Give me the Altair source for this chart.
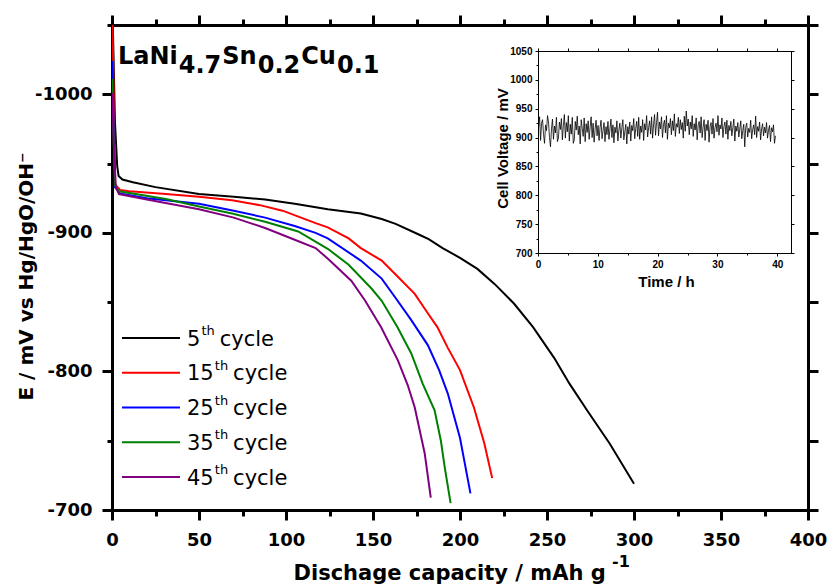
import altair as alt
import pandas as pd

# ---------------- data ----------------
cycle_labels = ["5", "15", "25", "35", "45"]
cycle_colors = ["#000000", "#ff0000", "#0000ff", "#008000", "#800080"]

cap_5 = [0.3, 1.7, 3.0, 3.8, 6, 12, 25, 50, 70, 88, 105, 124, 143, 155, 163, 176, 182, 190, 200, 210, 220, 231, 242, 254, 263, 273, 286, 300]
e_5 = [-1060, -980, -948, -941, -938.5, -936.5, -933, -928, -926, -924, -921, -917, -914, -910, -906.5, -899, -895.5, -889, -882, -874, -863, -849, -832, -810, -791, -772, -748, -719]

cap_15 = [0.2, 1.2, 1.8, 4.6, 10, 31, 50, 69, 85, 98, 117, 124, 136, 143, 155, 163, 174, 181.5, 187, 193, 200, 208, 214, 218.5]
e_15 = [-1060, -980, -935, -931, -930, -928, -926, -923.5, -920, -916, -907, -904, -896, -889, -880, -870, -856, -842, -832, -817, -801, -774, -748, -723]

cap_25 = [0.2, 1.0, 1.7, 4.6, 20, 50, 70, 88, 105, 117, 124, 143, 155, 163, 172, 181.5, 188, 193, 200, 203, 206]
e_25 = [-1024, -975, -933, -928.5, -925, -921, -916, -911, -905, -900, -896, -880, -867, -853, -837, -819, -801, -784, -752, -732, -712]

cap_35 = [0.1, 1.0, 1.8, 4.0, 31, 50, 69, 88, 107, 124, 136, 149, 155, 164, 172, 178.6, 185.4, 189, 191.2, 194.6]
e_35 = [-1011, -965, -934, -930, -924.5, -919, -914, -908, -901, -888.5, -877, -860, -851, -832, -813, -791, -772, -750, -731, -705]

cap_45 = [0.1, 1.0, 2.2, 4.0, 20, 50, 70, 88, 105, 117, 124.4, 137.5, 145.5, 154.6, 164.3, 170, 174, 179.7, 183.2]
e_45 = [-1001, -965, -933, -928, -924, -917, -911, -903.5, -895, -889, -881, -865.5, -851, -832, -808, -790, -774, -741, -709]

capacity = {"5": cap_5, "15": cap_15, "25": cap_25, "35": cap_35, "45": cap_45}
potential = {"5": e_5, "15": e_15, "25": e_25, "35": e_35, "45": e_45}

# inset: cell voltage (mV) sampled at a constant interval over ~40 h
inset_voltage = [
    918, 936, 895, 925, 931, 905, 890, 922, 912, 938, 927, 900, 884, 915, 932, 897, 920, 908, 935, 893, 899, 927, 914, 933, 896, 921, 940, 899, 926, 910,
    938, 894, 923, 906, 935, 890, 896, 928, 913, 937, 905, 920, 889, 931, 916, 902, 934, 893, 924, 909, 929, 897, 918, 936, 900, 925, 892, 914, 930, 903,
    921, 895, 917, 930, 898, 912, 926, 893, 919, 905, 928, 897, 915, 932, 900, 922, 891, 918, 908, 929, 894, 913, 925, 899, 917, 931, 896, 910, 923, 889,
    919, 906, 927, 894, 921, 912, 933, 898, 916, 928, 902, 935, 897, 920, 909, 931, 895, 924, 913, 938, 901, 917, 929, 906, 936, 899, 922, 940, 904, 926,
    944, 903, 927, 915, 936, 900, 922, 930, 908, 938, 897, 925, 917, 933, 905, 929, 912, 941, 902, 924, 918, 935, 907, 931, 914, 926, 899, 937, 911, 946,
    920, 932, 905, 927, 915, 938, 902, 924, 913, 934, 896, 921, 928, 908, 936, 900, 918, 931, 895, 923, 912, 930, 892, 919, 926, 906, 933, 899, 917, 925,
    910, 938, 904, 922, 915, 934, 900, 919, 927, 906, 930, 897, 921, 912, 928, 903, 917, 932, 894, 920, 911, 926, 901, 915, 929, 898, 912, 923, 884, 918,
    925, 901, 916, 909, 930, 898, 914, 922, 905, 937, 900, 919, 911, 927, 896, 915, 924, 903, 918, 908, 926, 899, 913, 921, 893, 917, 910, 922, 890, 903,
]
inset_start_h = 0.1
inset_interval_h = 0.1657

x_ticks = [0, 50, 100, 150, 200, 250, 300, 350, 400]
x_minor = [25, 75, 125, 175, 225, 275, 325, 375]
y_ticks = [-1000, -900, -800, -700]
y_minor = [-1050, -950, -850, -750]
y_right = [-1050, -1000, -950, -900, -850, -800, -750, -700]
inset_x_ticks = [0, 10, 20, 30, 40]
inset_x_minor = [5, 15, 25, 35]
inset_x_top = [0, 5, 10, 15, 20, 25, 30, 35, 40]
inset_y_ticks = [700, 750, 800, 850, 900, 950, 1000, 1050]
inset_y_minor = [725, 775, 825, 875, 925, 975, 1025]

# ---------------- layout ----------------
W, H = 696, 485
PAD_L, PAD_T = 104, 17
ORIGIN_X, ORIGIN_Y = 8 + PAD_L, 8 + PAD_T   # page pixel of plot top-left
X_DOM = [0, 400]
Y_DOM = [-1050, -700]


def px2x(px):
    return X_DOM[0] + (px - ORIGIN_X) / W * (X_DOM[1] - X_DOM[0])


def px2y(py):
    # y scale reversed: -1050 at top
    return Y_DOM[0] + (py - ORIGIN_Y) / H * (Y_DOM[1] - Y_DOM[0])


FONT = "DejaVu Sans"
IFONT = "Liberation Sans"


def xs():
    return alt.Scale(domain=X_DOM, nice=False, zero=False)


def ys():
    return alt.Scale(domain=Y_DOM, reverse=True, nice=False, zero=False)


rows = []
for lab in cycle_labels:
    for i, (c, e) in enumerate(zip(capacity[lab], potential[lab])):
        rows.append({"cycle": lab, "i": i, "x": c, "y": e})
curves_df = pd.DataFrame(rows)

color = alt.Color("cycle:N", scale=alt.Scale(domain=cycle_labels, range=cycle_colors), legend=None)

main_x_axis = alt.Axis(
    orient="bottom", values=x_ticks, tickSize=10, tickWidth=3, tickColor="black",
    domainWidth=3, domainColor="black", domainCap="square",
    labelFont=FONT, labelFontWeight="bold", labelFontSize=18, labelColor="black",
    labelPadding=11, labelFlush=False, labelOverlap=False, labelExpr="'' + datum.value",
    grid=False, title="Dischage capacity / mAh g", titleFont=FONT, titleFontWeight="bold",
    titleFontSize=21, titleColor="black", titleX=181, titleY=69, titleAlign="left",
    titleBaseline="alphabetic", titleAngle=0,
)
main_y_axis = alt.Axis(
    orient="left", values=y_ticks, tickSize=10, tickWidth=3, tickColor="black",
    domainWidth=3, domainColor="black", domainCap="square",
    labelFont=FONT, labelFontWeight="bold", labelFontSize=18, labelColor="black",
    labelPadding=10, labelOverlap=False, labelExpr="'' + datum.value",
    grid=False, title="E / mV vs Hg/HgO/OH\u207b", titleFont=FONT, titleFontWeight="bold",
    titleFontSize=20, titleColor="black", titleX=-80, titleY=375, titleAlign="left",
    titleBaseline="alphabetic", titleAngle=270,
)

curves = alt.Chart(curves_df).mark_line(strokeWidth=2, clip=True).encode(
    x=alt.X("x:Q", scale=xs(), axis=main_x_axis),
    y=alt.Y("y:Q", scale=ys(), axis=main_y_axis),
    color=color,
    order="i:Q",
)

# ---- in-plot legend built from the cycle lists ----
DIGIT_W = 13.4
TH_W = 13.3
leg_rules, leg_big, leg_th = [], [], []
for k, lab in enumerate(cycle_labels):
    ly = 338 + k * 34.75
    leg_rules.append({"cycle": lab, "x": px2x(122), "x2": px2x(180), "y": px2y(ly)})
    num_x = 187
    th_x = num_x + len(lab) * DIGIT_W + 1
    cyc_x = th_x + TH_W + 5
    leg_big.append({"t": lab, "x": px2x(num_x), "y": px2y(ly + 7.5)})
    leg_big.append({"t": "cycle", "x": px2x(cyc_x), "y": px2y(ly + 7.5)})
    leg_th.append({"t": "th", "x": px2x(th_x), "y": px2y(ly - 3)})

legend_lines = alt.Chart(pd.DataFrame(leg_rules)).mark_rule(strokeWidth=2).encode(
    x=alt.X("x:Q", scale=xs(), axis=None), x2="x2:Q",
    y=alt.Y("y:Q", scale=ys(), axis=None), color=color,
)
legend_big = alt.Chart(pd.DataFrame(leg_big)).mark_text(
    font=FONT, fontSize=21, align="left", baseline="alphabetic", color="black"
).encode(x=alt.X("x:Q", scale=xs(), axis=None), y=alt.Y("y:Q", scale=ys(), axis=None), text="t:N")
legend_th = alt.Chart(pd.DataFrame(leg_th)).mark_text(
    font=FONT, fontSize=13, align="left", baseline="alphabetic", color="black"
).encode(x=alt.X("x:Q", scale=xs(), axis=None), y=alt.Y("y:Q", scale=ys(), axis=None), text="t:N")

# ---- compound formula LaNi4.7Sn0.2Cu0.1 ----
DJB = {"L": .635, "a": .675, "N": .837, "i": .343, "S": .720, "n": .712, "C": .734, "u": .712, ".": .381}
for d in "0123456789":
    DJB[d] = .696
formula_parts = [("LaNi", 0), ("4.7", 1), ("Sn", 0), ("0.2", 1), ("Cu", 0), ("0.1", 1)]
FS_F = 24
fx = 118
frows = []
for txt, sub in formula_parts:
    frows.append({"t": txt, "x": px2x(fx), "y": px2y(73 if sub else 64)})
    fx += sum(DJB[c] for c in txt) * FS_F + 1
formula = alt.Chart(pd.DataFrame(frows)).mark_text(
    font=FONT, fontSize=FS_F, fontWeight="bold", align="left", baseline="alphabetic", color="black"
).encode(x=alt.X("x:Q", scale=xs(), axis=None), y=alt.Y("y:Q", scale=ys(), axis=None), text="t:N")

sup = alt.Chart(pd.DataFrame({"t": ["-1"]})).mark_text(
    font=FONT, fontSize=16, fontWeight="bold", align="left", baseline="alphabetic", color="black"
).encode(x=alt.value(500), y=alt.value(542), text="t:N")

dummy = pd.DataFrame({"x": [0], "y": [-700]})


def bare_axis(orient, values, size, domain, width=3, offset=0):
    return alt.Axis(orient=orient, values=values, tickSize=size, tickWidth=width, tickColor="black",
                    domain=domain, domainWidth=width, domainColor="black", domainCap="square",
                    labels=False, grid=False, title="", offset=offset)


main_minor = alt.Chart(dummy).mark_point(opacity=0).encode(
    x=alt.X("x:Q", scale=xs(), axis=bare_axis("bottom", x_minor, 6, False)),
    y=alt.Y("y:Q", scale=ys(), axis=bare_axis("left", y_minor, 5, False)),
)
main_mirror = alt.Chart(dummy).mark_point(opacity=0).encode(
    x=alt.X("x:Q", scale=xs(), axis=bare_axis("top", x_ticks, 10, True)),
    y=alt.Y("y:Q", scale=ys(), axis=bare_axis("right", y_right, 10, True)),
)
main_mirror_minor = alt.Chart(dummy).mark_point(opacity=0).encode(
    x=alt.X("x:Q", scale=xs(), axis=bare_axis("top", x_minor, 6, False)),
)

# ---------------- inset ----------------
IX0, IX1 = 538 - ORIGIN_X, 791 - ORIGIN_X   # inset frame in plot coords
IY0, IY1 = 253 - ORIGIN_Y, 51 - ORIGIN_Y
inset_df = pd.DataFrame({
    "t": [inset_start_h + k * inset_interval_h for k in range(len(inset_voltage))],
    "v": inset_voltage,
})


def ixs():
    return alt.Scale(domain=[0, 42.3], range=[IX0, IX1], nice=False, zero=False)


def iys():
    return alt.Scale(domain=[700, 1050], range=[IY0, IY1], nice=False, zero=False)


inset_line = alt.Chart(inset_df).mark_line(strokeWidth=0.8, color="black").encode(
    x=alt.X("t:Q", scale=ixs(), axis=alt.Axis(
        orient="bottom", offset=IY0 - H, values=inset_x_ticks, tickSize=3, tickWidth=1, tickColor="black",
        domainWidth=1, domainColor="black", labelFont=IFONT, labelFontSize=10, labelFontWeight="bold",
        labelColor="black", labelPadding=3, labelFlush=False, labelOverlap=False, grid=False,
        labelExpr="'' + datum.value",
        title="Time / h", titleFont=IFONT, titleFontSize=15, titleFontWeight="bold", titleColor="black",
        titleX=(666 - ORIGIN_X), titleY=286 - 253, titleAlign="center", titleBaseline="alphabetic", titleAngle=0)),
    y=alt.Y("v:Q", scale=iys(), axis=alt.Axis(
        orient="left", offset=-IX0, values=inset_y_ticks, tickSize=3, tickWidth=1, tickColor="black",
        domainWidth=1, domainColor="black", labelFont=IFONT, labelFontSize=10, labelFontWeight="bold",
        labelColor="black", labelPadding=3, labelOverlap=False, grid=False,
        labelExpr="'' + datum.value",
        title="Cell Voltage / mV", titleFont=IFONT, titleFontSize=15, titleFontWeight="bold", titleColor="black",
        titleX=-31, titleY=148 - ORIGIN_Y, titleAlign="center", titleBaseline="alphabetic", titleAngle=270)),
)
idummy = pd.DataFrame({"t": [0], "v": [700]})
inset_minor = alt.Chart(idummy).mark_point(opacity=0).encode(
    x=alt.X("t:Q", scale=ixs(), axis=bare_axis("bottom", inset_x_minor, 2, False, 1, IY0 - H)),
    y=alt.Y("v:Q", scale=iys(), axis=bare_axis("left", inset_y_minor, 2, False, 1, -IX0)),
)
inset_mirror = alt.Chart(idummy).mark_point(opacity=0).encode(
    x=alt.X("t:Q", scale=ixs(), axis=bare_axis("top", inset_x_top, 3, True, 1, -IY1)),
    y=alt.Y("v:Q", scale=iys(), axis=bare_axis("right", inset_y_ticks, 3, True, 1, IX1 - W)),
)

chart = alt.layer(
    curves, legend_lines, legend_big, legend_th, formula, sup,
    main_minor, main_mirror, main_mirror_minor, inset_line, inset_minor, inset_mirror
).resolve_scale(x="independent", y="independent").properties(
    width=W, height=H,
    padding={"left": PAD_L, "top": PAD_T, "right": 19, "bottom": 75},
    autosize=alt.AutoSizeParams(type="none"),
    background="white",
).configure_view(strokeWidth=0)

chart.save("out.html", embed_options={"renderer": "svg", "actions": False})
